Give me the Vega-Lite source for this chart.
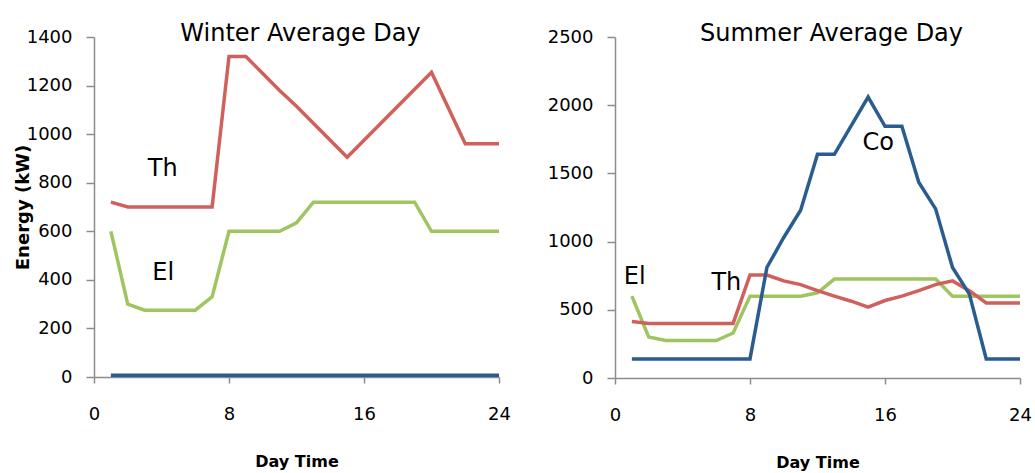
{
  "$schema": "https://vega.github.io/schema/vega-lite/v6.json",
  "padding": {"left": 14, "top": 22, "right": 1, "bottom": 5},
  "background": "white",
  "spacing": 36,
  "config": {
    "font": "DejaVu Sans",
    "view": {"stroke": null},
    "axis": {
      "grid": false,
      "format": "d",
      "labelFlush": false,
      "domainColor": "#8c8c8c",
      "domainWidth": 1.5,
      "tickColor": "#8c8c8c",
      "tickWidth": 1.5,
      "labelFont": "DejaVu Sans",
      "labelFontSize": 18,
      "labelColor": "#000000",
      "titleFont": "DejaVu Sans",
      "titleFontWeight": "bold",
      "titleColor": "#000000"
    },
    "axisX": {"tickSize": 6, "labelPadding": 22, "titleFontSize": 16, "titlePadding": 30},
    "axisY": {"tickSize": 8, "labelPadding": 14, "titleFontSize": 18},
    "title": {"font": "DejaVu Sans", "fontSize": 24, "fontWeight": "normal", "color": "#000000", "anchor": "middle", "baseline": "alphabetic"}
  },
  "datasets": {
    "winter": [
      {"h": 1, "s": "Co", "v": 7}, {"h": 2, "s": "Co", "v": 7}, {"h": 3, "s": "Co", "v": 7}, {"h": 4, "s": "Co", "v": 7},
      {"h": 5, "s": "Co", "v": 7}, {"h": 6, "s": "Co", "v": 7}, {"h": 7, "s": "Co", "v": 7}, {"h": 8, "s": "Co", "v": 7},
      {"h": 9, "s": "Co", "v": 7}, {"h": 10, "s": "Co", "v": 7}, {"h": 11, "s": "Co", "v": 7}, {"h": 12, "s": "Co", "v": 7},
      {"h": 13, "s": "Co", "v": 7}, {"h": 14, "s": "Co", "v": 7}, {"h": 15, "s": "Co", "v": 7}, {"h": 16, "s": "Co", "v": 7},
      {"h": 17, "s": "Co", "v": 7}, {"h": 18, "s": "Co", "v": 7}, {"h": 19, "s": "Co", "v": 7}, {"h": 20, "s": "Co", "v": 7},
      {"h": 21, "s": "Co", "v": 7}, {"h": 22, "s": "Co", "v": 7}, {"h": 23, "s": "Co", "v": 7}, {"h": 24, "s": "Co", "v": 7},
      {"h": 1, "s": "El", "v": 600}, {"h": 2, "s": "El", "v": 300}, {"h": 3, "s": "El", "v": 275}, {"h": 4, "s": "El", "v": 275},
      {"h": 5, "s": "El", "v": 275}, {"h": 6, "s": "El", "v": 275}, {"h": 7, "s": "El", "v": 330}, {"h": 8, "s": "El", "v": 600},
      {"h": 9, "s": "El", "v": 600}, {"h": 10, "s": "El", "v": 600}, {"h": 11, "s": "El", "v": 600}, {"h": 12, "s": "El", "v": 635},
      {"h": 13, "s": "El", "v": 720}, {"h": 14, "s": "El", "v": 720}, {"h": 15, "s": "El", "v": 720}, {"h": 16, "s": "El", "v": 720},
      {"h": 17, "s": "El", "v": 720}, {"h": 18, "s": "El", "v": 720}, {"h": 19, "s": "El", "v": 720}, {"h": 20, "s": "El", "v": 600},
      {"h": 21, "s": "El", "v": 600}, {"h": 22, "s": "El", "v": 600}, {"h": 23, "s": "El", "v": 600}, {"h": 24, "s": "El", "v": 600},
      {"h": 1, "s": "Th", "v": 720}, {"h": 2, "s": "Th", "v": 700}, {"h": 3, "s": "Th", "v": 700}, {"h": 4, "s": "Th", "v": 700},
      {"h": 5, "s": "Th", "v": 700}, {"h": 6, "s": "Th", "v": 700}, {"h": 7, "s": "Th", "v": 700}, {"h": 8, "s": "Th", "v": 1320},
      {"h": 9, "s": "Th", "v": 1320}, {"h": 10, "s": "Th", "v": 1250}, {"h": 11, "s": "Th", "v": 1180}, {"h": 12, "s": "Th", "v": 1115},
      {"h": 13, "s": "Th", "v": 1045}, {"h": 14, "s": "Th", "v": 975}, {"h": 15, "s": "Th", "v": 905}, {"h": 16, "s": "Th", "v": 975},
      {"h": 17, "s": "Th", "v": 1045}, {"h": 18, "s": "Th", "v": 1115}, {"h": 19, "s": "Th", "v": 1185}, {"h": 20, "s": "Th", "v": 1255},
      {"h": 21, "s": "Th", "v": 1108}, {"h": 22, "s": "Th", "v": 960}, {"h": 23, "s": "Th", "v": 960}, {"h": 24, "s": "Th", "v": 960}
    ],
    "summer": [
      {"h": 1, "s": "El", "v": 600}, {"h": 2, "s": "El", "v": 300}, {"h": 3, "s": "El", "v": 275}, {"h": 4, "s": "El", "v": 275},
      {"h": 5, "s": "El", "v": 275}, {"h": 6, "s": "El", "v": 275}, {"h": 7, "s": "El", "v": 330}, {"h": 8, "s": "El", "v": 600},
      {"h": 9, "s": "El", "v": 600}, {"h": 10, "s": "El", "v": 600}, {"h": 11, "s": "El", "v": 600}, {"h": 12, "s": "El", "v": 625},
      {"h": 13, "s": "El", "v": 725}, {"h": 14, "s": "El", "v": 725}, {"h": 15, "s": "El", "v": 725}, {"h": 16, "s": "El", "v": 725},
      {"h": 17, "s": "El", "v": 725}, {"h": 18, "s": "El", "v": 725}, {"h": 19, "s": "El", "v": 725}, {"h": 20, "s": "El", "v": 600},
      {"h": 21, "s": "El", "v": 600}, {"h": 22, "s": "El", "v": 600}, {"h": 23, "s": "El", "v": 600}, {"h": 24, "s": "El", "v": 600},
      {"h": 1, "s": "Th", "v": 415}, {"h": 2, "s": "Th", "v": 400}, {"h": 3, "s": "Th", "v": 400}, {"h": 4, "s": "Th", "v": 400},
      {"h": 5, "s": "Th", "v": 400}, {"h": 6, "s": "Th", "v": 400}, {"h": 7, "s": "Th", "v": 400}, {"h": 8, "s": "Th", "v": 755},
      {"h": 9, "s": "Th", "v": 755}, {"h": 10, "s": "Th", "v": 712}, {"h": 11, "s": "Th", "v": 685}, {"h": 12, "s": "Th", "v": 640},
      {"h": 13, "s": "Th", "v": 600}, {"h": 14, "s": "Th", "v": 563}, {"h": 15, "s": "Th", "v": 520}, {"h": 16, "s": "Th", "v": 568},
      {"h": 17, "s": "Th", "v": 600}, {"h": 18, "s": "Th", "v": 640}, {"h": 19, "s": "Th", "v": 685}, {"h": 20, "s": "Th", "v": 712},
      {"h": 21, "s": "Th", "v": 640}, {"h": 22, "s": "Th", "v": 550}, {"h": 23, "s": "Th", "v": 550}, {"h": 24, "s": "Th", "v": 550},
      {"h": 1, "s": "Co", "v": 140}, {"h": 2, "s": "Co", "v": 140}, {"h": 3, "s": "Co", "v": 140}, {"h": 4, "s": "Co", "v": 140},
      {"h": 5, "s": "Co", "v": 140}, {"h": 6, "s": "Co", "v": 140}, {"h": 7, "s": "Co", "v": 140}, {"h": 8, "s": "Co", "v": 140},
      {"h": 9, "s": "Co", "v": 810}, {"h": 10, "s": "Co", "v": 1030}, {"h": 11, "s": "Co", "v": 1230}, {"h": 12, "s": "Co", "v": 1640},
      {"h": 13, "s": "Co", "v": 1640}, {"h": 14, "s": "Co", "v": 1850}, {"h": 15, "s": "Co", "v": 2060}, {"h": 16, "s": "Co", "v": 1845},
      {"h": 17, "s": "Co", "v": 1845}, {"h": 18, "s": "Co", "v": 1435}, {"h": 19, "s": "Co", "v": 1240}, {"h": 20, "s": "Co", "v": 810},
      {"h": 21, "s": "Co", "v": 615}, {"h": 22, "s": "Co", "v": 140}, {"h": 23, "s": "Co", "v": 140}, {"h": 24, "s": "Co", "v": 140}
    ],
    "wlab": [
      {"h": 4.07, "v": 827, "t": "Th"},
      {"h": 4.1, "v": 401, "t": "El"}
    ],
    "slab": [
      {"h": 1.17, "v": 689, "t": "El"},
      {"h": 6.6, "v": 645, "t": "Th"},
      {"h": 15.6, "v": 1669, "t": "Co"}
    ]
  },
  "hconcat": [
    {
      "width": 405,
      "height": 340,
      "title": {"text": "Winter Average Day", "offset": -18, "dx": 4},
      "layer": [
        {
          "data": {"name": "winter"},
          "mark": {"type": "line", "strokeWidth": 3.5, "strokeJoin": "miter"},
          "encoding": {
            "x": {"field": "h", "type": "quantitative", "scale": {"domain": [0, 24], "nice": false}, "axis": {"values": [0, 8, 16, 24], "title": "Day Time"}},
            "y": {"field": "v", "type": "quantitative", "scale": {"domain": [0, 1400], "nice": false}, "axis": {"values": [0, 200, 400, 600, 800, 1000, 1200, 1400], "title": "Energy (kW)", "titlePadding": -6}},
            "color": {"field": "s", "type": "nominal", "scale": {"domain": ["Co", "Th", "El"], "range": ["#2b5c8f", "#d0605c", "#a0c460"]}, "legend": null}
          }
        },
        {
          "data": {"name": "wlab"},
          "mark": {"type": "text", "fontSize": 24, "font": "DejaVu Sans", "color": "#000000", "baseline": "alphabetic", "align": "center"},
          "encoding": {
            "x": {"field": "h", "type": "quantitative"},
            "y": {"field": "v", "type": "quantitative"},
            "text": {"field": "t"}
          }
        }
      ]
    },
    {
      "width": 405,
      "height": 341,
      "title": {"text": "Summer Average Day", "offset": -18, "dx": 14},
      "layer": [
        {
          "data": {"name": "summer"},
          "mark": {"type": "line", "strokeWidth": 3.5, "strokeJoin": "miter"},
          "encoding": {
            "x": {"field": "h", "type": "quantitative", "scale": {"domain": [0, 24], "nice": false}, "axis": {"values": [0, 8, 16, 24], "title": "Day Time"}},
            "y": {"field": "v", "type": "quantitative", "scale": {"domain": [0, 2500], "nice": false}, "axis": {"values": [0, 500, 1000, 1500, 2000, 2500], "title": null}},
            "color": {"field": "s", "type": "nominal", "scale": {"domain": ["Co", "Th", "El"], "range": ["#2b5c8f", "#d0605c", "#a0c460"]}, "legend": null},
            "order": {"field": "h", "type": "quantitative"}
          }
        },
        {
          "data": {"name": "slab"},
          "mark": {"type": "text", "fontSize": 24, "font": "DejaVu Sans", "color": "#000000", "baseline": "alphabetic", "align": "center"},
          "encoding": {
            "x": {"field": "h", "type": "quantitative"},
            "y": {"field": "v", "type": "quantitative"},
            "text": {"field": "t"}
          }
        }
      ]
    }
  ]
}
